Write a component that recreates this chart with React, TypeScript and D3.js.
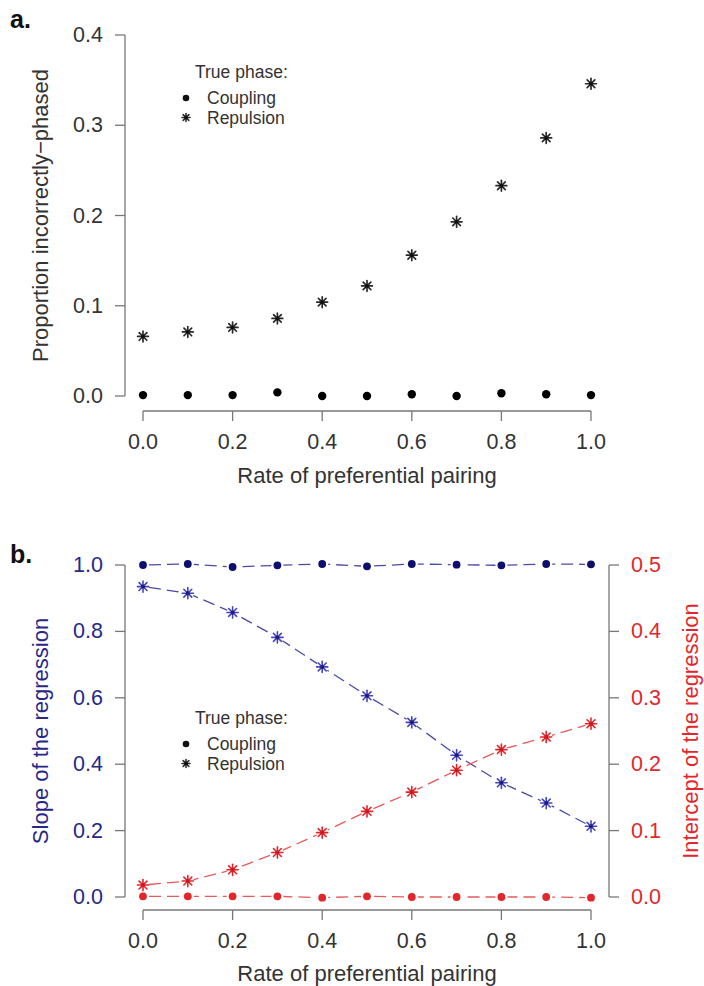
import React from "react";
import * as d3 from "d3";

// Rate of preferential pairing (shared x values)
const rates = [0, 0.1, 0.2, 0.3, 0.4, 0.5, 0.6, 0.7, 0.8, 0.9, 1.0];

// Panel a: proportion incorrectly phased
const propCoupling = [0.001, 0.001, 0.001, 0.004, 0.0, 0.0, 0.002, 0.0, 0.003, 0.002, 0.001];
const propRepulsion = [0.066, 0.071, 0.076, 0.086, 0.104, 0.122, 0.156, 0.193, 0.233, 0.286, 0.346];

// Panel b: slope (left axis) and intercept (right axis) of the regression
const slopeCoupling = [1.0, 1.003, 0.994, 0.999, 1.003, 0.996, 1.003, 1.001, 0.999, 1.003, 1.002];
const slopeRepulsion = [0.935, 0.915, 0.857, 0.782, 0.693, 0.606, 0.526, 0.427, 0.344, 0.283, 0.213];
const interceptCoupling = [0.001, 0.001, 0.001, 0.001, -0.001, 0.001, 0.0, 0.0, 0.0, 0.0, -0.001];
const interceptRepulsion = [0.018, 0.024, 0.041, 0.067, 0.097, 0.129, 0.158, 0.191, 0.222, 0.241, 0.261];

// Tick values
const xTicks = [0, 0.2, 0.4, 0.6, 0.8, 1.0];
const yTicksA = [0, 0.1, 0.2, 0.3, 0.4];
const yTicksSlope = [0, 0.2, 0.4, 0.6, 0.8, 1.0];
const yTicksIntercept = [0, 0.1, 0.2, 0.3, 0.4, 0.5];

const legendItems = ["Coupling", "Repulsion"];

const FONT = "'Liberation Sans', Arial, Helvetica, sans-serif";
const TEXT = "#333";
const AXIS = "#777";
const NAVY = "#0e0e6e";
const BLUE = "#4646b8";
const BLUE_CORE = "#1c1c80";
const BLUE_TEXT = "#27278a";
const BLUE_LINE = "#4a4aa4";
const RED = "#e3262b";
const RED_CORE = "#c81a20";
const RED_LINE = "#e65a5a";

const W = 704;
const H = 986;

const x = d3.scaleLinear().domain([0, 1]).range([143, 591]);
const yA = d3.scaleLinear().domain([0, 0.4]).range([396, 35]);
const yS = d3.scaleLinear().domain([0, 1]).range([897, 565]);
const yI = d3.scaleLinear().domain([0, 0.5]).range([897, 565]);

const fmt = d3.format(".1f");

function Asterisk({
  cx,
  cy,
  r,
  color,
  sw = 1.5,
  core,
}: {
  cx: number;
  cy: number;
  r: number;
  color: string;
  sw?: number;
  core?: string;
}) {
  const d = r * Math.SQRT1_2;
  return (
    <g>
      <g stroke={color} strokeWidth={sw} strokeLinecap="round">
        <line x1={cx - r} y1={cy} x2={cx + r} y2={cy} />
        <line x1={cx} y1={cy - r} x2={cx} y2={cy + r} />
        <line x1={cx - d} y1={cy - d} x2={cx + d} y2={cy + d} />
        <line x1={cx - d} y1={cy + d} x2={cx + d} y2={cy - d} />
      </g>
      {core && <circle cx={cx} cy={cy} r={2} fill={core} />}
    </g>
  );
}

// Segments between consecutive points with a gap around each marker
function GappedLine({
  ys,
  yScale,
  color,
  gap = 6,
}: {
  ys: number[];
  yScale: d3.ScaleLinear<number, number>;
  color: string;
  gap?: number;
}) {
  const pts = rates.map((r, i) => [x(r), yScale(ys[i])] as [number, number]);
  const segs = [];
  for (let i = 0; i < pts.length - 1; i++) {
    const [x1, y1] = pts[i];
    const [x2, y2] = pts[i + 1];
    const len = Math.hypot(x2 - x1, y2 - y1);
    const ux = (x2 - x1) / len;
    const uy = (y2 - y1) / len;
    segs.push(
      <line
        key={i}
        x1={x1 + ux * gap}
        y1={y1 + uy * gap}
        x2={x2 - ux * gap}
        y2={y2 - uy * gap}
        stroke={color}
        strokeWidth={1.3}
        strokeDasharray="12 6"
        strokeDashoffset={(i * 7) % 18}
      />
    );
  }
  return <g>{segs}</g>;
}

function XAxis({ y0, labelY, titleY }: { y0: number; labelY: number; titleY: number }) {
  return (
    <g>
      <line x1={x(0)} y1={y0} x2={x(1)} y2={y0} stroke={AXIS} strokeWidth={1.3} />
      {xTicks.map((t) => (
        <g key={t}>
          <line x1={x(t)} y1={y0} x2={x(t)} y2={y0 + 10} stroke={AXIS} strokeWidth={1.3} />
          <text x={x(t)} y={labelY} textAnchor="middle" dominantBaseline="central" fontSize={21.5} fill={TEXT}>
            {fmt(t)}
          </text>
        </g>
      ))}
      <text x={(x(0) + x(1)) / 2} y={titleY} textAnchor="middle" dominantBaseline="central" fontSize={22} fill={TEXT}>
        Rate of preferential pairing
      </text>
    </g>
  );
}

function YAxis({
  scale,
  ticks,
  ax,
  side,
  color,
}: {
  scale: d3.ScaleLinear<number, number>;
  ticks: number[];
  ax: number;
  side: "left" | "right";
  color: string;
}) {
  const dir = side === "left" ? -1 : 1;
  const [d0, d1] = scale.domain();
  return (
    <g>
      <line x1={ax} y1={scale(d0)} x2={ax} y2={scale(d1)} stroke={AXIS} strokeWidth={1.3} />
      {ticks.map((t) => (
        <g key={t}>
          <line x1={ax} y1={scale(t)} x2={ax + dir * 10} y2={scale(t)} stroke={AXIS} strokeWidth={1.3} />
          <text
            x={ax + dir * 22}
            y={scale(t)}
            textAnchor={side === "left" ? "end" : "start"}
            dominantBaseline="central"
            fontSize={21.5}
            fill={color}
          >
            {fmt(t)}
          </text>
        </g>
      ))}
    </g>
  );
}

function Legend({ lx, ly }: { lx: number; ly: number }) {
  return (
    <g fontSize={17.5} fill={TEXT}>
      <text x={lx + 9} y={ly} dominantBaseline="central">True phase:</text>
      {legendItems.map((name, i) => {
        const cy = ly + 26 + i * 19.5;
        return (
          <g key={name}>
            {i === 0 ? (
              <circle cx={lx} cy={cy} r={3.3} fill="#111" />
            ) : (
              <Asterisk cx={lx} cy={cy} r={4} color="#333" sw={1.6} core="#111" />
            )}
            <text x={lx + 21} y={cy} dominantBaseline="central">{name}</text>
          </g>
        );
      })}
    </g>
  );
}

export default function App() {
  return (
    <svg
      width={W}
      height={H}
      viewBox={`0 0 ${W} ${H}`}
      style={{ position: "absolute", left: 0, top: 0, display: "block", background: "#fff" }}
      fontFamily={FONT}
    >
      <rect x={0} y={0} width={W} height={H} fill="#fff" />

      {/* Panel a */}
      <text x={10} y={28} fontSize={25} fontWeight="bold" fill="#111">a.</text>
      <YAxis scale={yA} ticks={yTicksA} ax={125} side="left" color={TEXT} />
      <XAxis y0={411} labelY={442} titleY={475} />
      <text
        transform={`translate(40, ${(yA(0) + yA(0.4)) / 2}) rotate(-90)`}
        textAnchor="middle"
        dominantBaseline="central"
        fontSize={22}
        fill={TEXT}
      >
        Proportion incorrectly−phased
      </text>
      <Legend lx={186} ly={72} />
      {rates.map((r, i) => (
        <circle key={`ca${i}`} cx={x(r)} cy={yA(propCoupling[i])} r={4.2} fill="#000" />
      ))}
      {rates.map((r, i) => (
        <Asterisk key={`ra${i}`} cx={x(r)} cy={yA(propRepulsion[i])} r={5.4} color="#2a2a2a" sw={1.7} core="#111" />
      ))}

      {/* Panel b */}
      <text x={10} y={563} fontSize={25} fontWeight="bold" fill="#111">b.</text>
      <YAxis scale={yS} ticks={yTicksSlope} ax={125} side="left" color={BLUE_TEXT} />
      <YAxis scale={yI} ticks={yTicksIntercept} ax={609} side="right" color={RED} />
      <XAxis y0={910} labelY={941} titleY={973} />
      <text
        transform={`translate(690, ${(yI(0) + yI(0.5)) / 2}) rotate(-90)`}
        textAnchor="middle"
        dominantBaseline="central"
        fontSize={22}
        fill={RED}
      >
        Intercept of the regression
      </text>
      <text
        transform={`translate(40, ${(yS(0) + yS(1)) / 2}) rotate(-90)`}
        textAnchor="middle"
        dominantBaseline="central"
        fontSize={22}
        fill={BLUE_TEXT}
      >
        Slope of the regression
      </text>
      <Legend lx={186} ly={718} />

      <GappedLine ys={slopeCoupling} yScale={yS} color={BLUE_LINE} />
      <GappedLine ys={slopeRepulsion} yScale={yS} color={BLUE_LINE} />
      <GappedLine ys={interceptCoupling} yScale={yI} color={RED_LINE} />
      <GappedLine ys={interceptRepulsion} yScale={yI} color={RED_LINE} />

      {rates.map((r, i) => (
        <circle key={`cs${i}`} cx={x(r)} cy={yS(slopeCoupling[i])} r={3.9} fill={NAVY} />
      ))}
      {rates.map((r, i) => (
        <Asterisk
          key={`rs${i}`}
          cx={x(r)}
          cy={yS(slopeRepulsion[i])}
          r={5.6}
          color={BLUE}
          sw={1.6}
          core={BLUE_CORE}
        />
      ))}
      {rates.map((r, i) => (
        <circle key={`ci${i}`} cx={x(r)} cy={yI(interceptCoupling[i])} r={3.9} fill={RED} />
      ))}
      {rates.map((r, i) => (
        <Asterisk
          key={`ri${i}`}
          cx={x(r)}
          cy={yI(interceptRepulsion[i])}
          r={5.6}
          color={RED}
          sw={1.6}
          core={RED_CORE}
        />
      ))}
    </svg>
  );
}
